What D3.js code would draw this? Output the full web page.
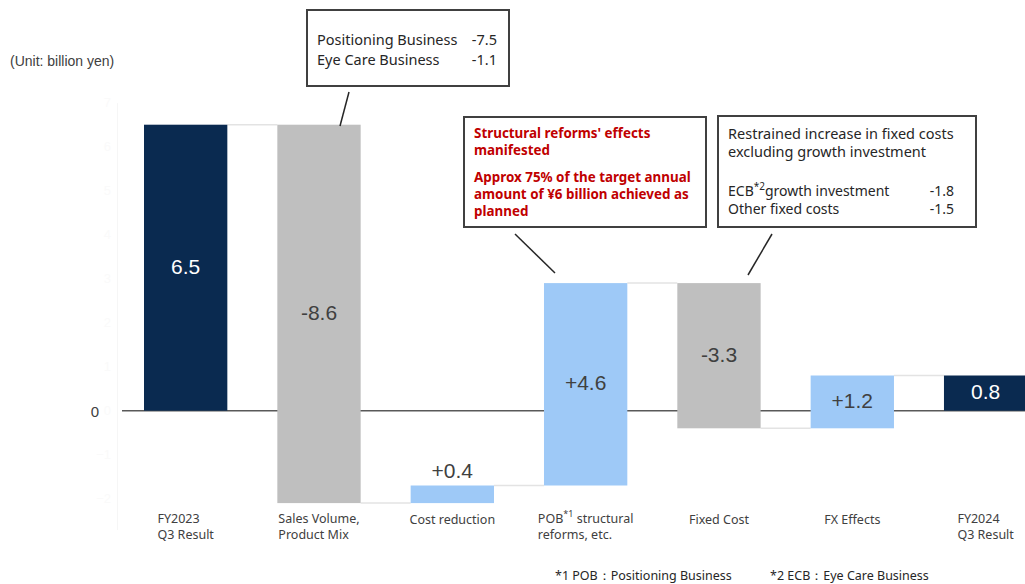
<!DOCTYPE html>
<html><head><meta charset="utf-8">
<script src="https://cdn.jsdelivr.net/npm/d3@7"></script>
<style>body{margin:0;background:#fff}svg{display:block}</style>
</head><body>
<svg id="c" width="1025" height="584"></svg>
<script>
const categories = ["FY2023\nQ3 Result","Sales Volume,\nProduct Mix","Cost reduction","POB|*1| structural\nreforms, etc.","Fixed Cost","FX Effects","FY2024\nQ3 Result"];
const values = [6.5, -8.6, 0.4, 4.6, -3.3, 1.2, 0.8];
const kinds = ["total","down","up","up","down","up","total"];
const valueLabels = ["6.5","-8.6","+0.4","+4.6","-3.3","+1.2","0.8"];
const yTicks = [-2,-1,0,1,2,3,4,5,6,7];
const note1 = [["Positioning Business","-7.5"],["Eye Care Business","-1.1"]];
const note2 = ["Structural reforms' effects","manifested","Approx 75% of the target annual","amount of ¥6 billion achieved as","planned"];
const note3 = ["Restrained increase in fixed costs","excluding growth investment"];
const note3vals = [["ECB|*2|growth investment","-1.8"],["Other fixed costs","-1.5"]];
const footnotes = ["*1 POB：Positioning Business","*2 ECB：Eye Care Business"];

const colors = {total:"#0a2a50", down:"#bfbfbf", up:"#9ec9f7"};
const svg = d3.select("#c");
const seg = "'Noto Sans','Open Sans',sans-serif";
const ari = "'Liberation Sans',Arial,sans-serif";

const x = d3.scaleBand().domain(categories).range([144, 1027.3]).paddingInner(0.375).paddingOuter(0);
const y = d3.scaleLinear().domain([-2.7, 7]).range([529.5, 102.7]);

let run = 0;
const bars = values.map((v,i)=>{
  let a,b;
  if(kinds[i]==="total"){ a=0; b=v; run=v; }
  else { a=run; b=run+v; run=b; }
  return {cat:categories[i], a, b, end:run, kind:kinds[i], label:valueLabels[i]};
});

// faint axis
const ax = svg.append("g").attr("transform","translate(117,0)")
  .call(d3.axisLeft(y).tickValues(yTicks).tickSize(0).tickPadding(6));
ax.select(".domain").attr("stroke","#f6f6f6");
ax.selectAll("text").attr("fill","#fafafa").style("font-family",ari).style("font-size","13px");
svg.append("text").attr("x",95).attr("y",y(0)+6).attr("text-anchor","middle")
  .style("font-family",ari).style("font-size","15px").attr("fill","#404040").text("0");

svg.append("line").attr("x1",122).attr("x2",1025).attr("y1",y(0)).attr("y2",y(0))
  .attr("stroke","#595959").attr("stroke-width",1.5);

for(let i=0;i<bars.length-1;i++){
  svg.append("line").attr("x1",x(bars[i].cat)+x.bandwidth()).attr("x2",x(bars[i+1].cat))
    .attr("y1",y(bars[i].end)).attr("y2",y(bars[i].end))
    .attr("stroke","#e3e3e3").attr("stroke-width",1.5);
}

svg.selectAll("rect.bar").data(bars).join("rect").attr("class","bar")
  .attr("x",d=>x(d.cat)).attr("width",x.bandwidth())
  .attr("y",d=>y(Math.max(d.a,d.b))).attr("height",d=>Math.abs(y(d.a)-y(d.b)))
  .attr("fill",d=>colors[d.kind]);

svg.selectAll("text.val").data(bars).join("text").attr("class","val")
  .attr("x",d=>x(d.cat)+x.bandwidth()/2)
  .attr("y",d=>{
    const h=Math.abs(y(d.a)-y(d.b));
    if(h<30) return y(Math.max(d.a,d.b))-8;
    return (y(d.a)+y(d.b))/2+6;
  })
  .attr("text-anchor","middle").style("font-family",ari).style("font-size","21px")
  .attr("fill",d=>d.kind==="total"?"#ffffff":"#404040").text(d=>d.label);

function richText(sel, str, supSize){
  const parts = str.split("|");
  parts.forEach((p,k)=>{
    if(k%2===1){ sel.append("tspan").attr("dy","-6").style("font-size",supSize).text(p); }
    else if(k>0){ sel.append("tspan").attr("dy","6").text(p); }
    else sel.append("tspan").text(p);
  });
}
categories.forEach((c,i)=>{
  const lines=c.split("\n");
  const g=svg.append("g");
  const cx=x(c)+x.bandwidth()/2;
  const baseY = lines.length>1?523:524;
  const ts=lines.map((ln,j)=>{
    const t=g.append("text").attr("y",baseY+j*16).style("font-family",seg).style("font-size","12.5px").attr("fill","#404040");
    richText(t,ln,"9px");
    return t;
  });
  const w=d3.max(ts,t=>t.node().getComputedTextLength());
  ts.forEach(t=>t.attr("x",cx-w/2).selectAll("tspan").filter((d,k)=>k===0).attr("x",cx-w/2));
});

svg.append("text").attr("x",10).attr("y",66).style("font-family",ari).style("font-size","14px").attr("fill","#404040").text("(Unit: billion yen)");

function box(x0,y0,x1,y1){
  svg.append("rect").attr("x",x0).attr("y",y0).attr("width",x1-x0).attr("height",y1-y0)
    .attr("fill","#fff").attr("stroke","#404040").attr("stroke-width",2);
}
function leader(x0,y0,x1,y1){
  svg.append("line").attr("x1",x0).attr("y1",y0).attr("x2",x1).attr("y2",y1).attr("stroke","#262626").attr("stroke-width",1.5);
}
box(307,10,509,86);
note1.forEach((r,i)=>{
  svg.append("text").attr("x",317).attr("y",45+i*20).style("font-family",seg).style("font-size","14.5px").attr("fill","#262626").text(r[0]);
  svg.append("text").attr("x",497).attr("y",45+i*20).attr("text-anchor","end").style("font-family",seg).style("font-size","14.5px").attr("fill","#262626").text(r[1]);
});
leader(349,92,340,126);

box(464,117,706,227);
const n2y=[138,155,182,199,216];
note2.forEach((t,i)=>{
  svg.append("text").attr("x",474).attr("y",n2y[i]).style("font-family",seg).style("font-size","13.4px").style("font-weight","bold").attr("fill","#c00000").text(t);
});
leader(515,234,555,273);

box(718,116,976,227);
note3.forEach((t,i)=>{
  svg.append("text").attr("x",728).attr("y",139+i*18).style("font-family",seg).style("font-size","14.5px").attr("fill","#262626").text(t);
});
note3vals.forEach((r,i)=>{
  const t=svg.append("text").attr("x",728).attr("y",196+i*17.5).style("font-family",seg).style("font-size","14px").attr("fill","#262626");
  richText(t,r[0],"10px");
  svg.append("text").attr("x",954).attr("y",196+i*17.5).attr("text-anchor","end").style("font-family",seg).style("font-size","14px").attr("fill","#262626").text(r[1]);
});
leader(772,234,748,275);

svg.append("text").attr("x",555).attr("y",580).style("font-family",seg).style("font-size","12.5px").attr("fill","#262626").text(footnotes[0]);
svg.append("text").attr("x",770).attr("y",580).style("font-family",seg).style("font-size","12.5px").attr("fill","#262626").text(footnotes[1]);
</script>
</body></html>
